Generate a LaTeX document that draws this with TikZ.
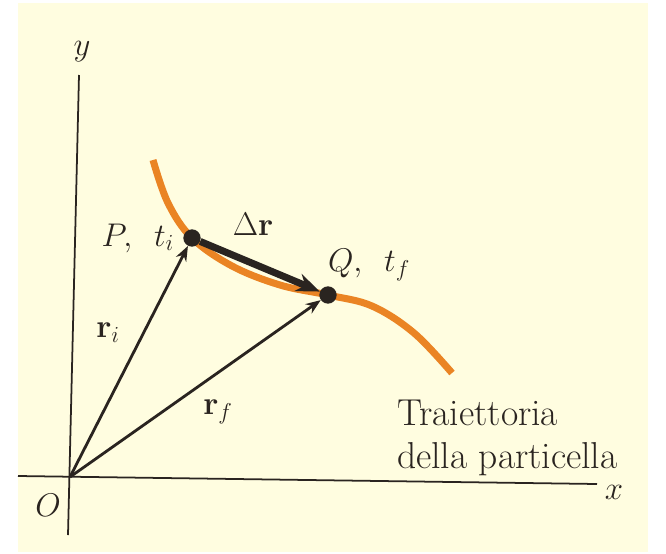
\RequirePackage{fix-cm}
\documentclass[tikz,border=0pt]{standalone}
\usepackage{amsmath, amssymb}
\usepackage{tikz}
\usetikzlibrary{positioning, arrows.meta}
\definecolor{cream}{HTML}{FFFDE0}
\definecolor{traj}{HTML}{EA8424}
\definecolor{ink}{HTML}{2A2420}

\begin{document}
\begin{tikzpicture}[x=0.03cm, y=-0.03cm,
    every node/.style={font=\fontsize{28}{34}\selectfont, text=ink},
    lbl/.style={font=\fontsize{32}{40}\selectfont, anchor=base west, inner sep=0pt},
    axis/.style={draw=ink, line width=1.5pt},
    vec/.style={-{Stealth[length=4.5mm, width=3.4mm]}, draw=ink, line width=2.4pt},
    dvec/.style={-{Stealth[length=7mm, width=5.5mm]}, draw=ink, line width=6pt},
    dot/.style={circle, fill=ink, inner sep=0pt, minimum size=0.52cm}]

  \useasboundingbox (0,0) rectangle (666,553);
  \fill[cream] (18,3) rectangle (648,552);

  % assi
  \coordinate (ytop) at (79,75);
  \coordinate (ybot) at (68,535);
  \coordinate (xleft) at (18,476);
  \coordinate (xright) at (597,484);
  \coordinate (O) at (70,477);
  \draw[axis] (ybot) -- (ytop);
  \draw[axis] (xleft) -- (xright);
  \node (ylab) at (82,52) {$y$};
  \node[inner sep=1pt] (xlab) at (614,492) {$x$};
  \node (Olab) at (48,505) {$O$};

  % traiettoria
  \draw[traj, line width=6pt] plot[smooth, tension=0.6]
    coordinates {(153,160) (168,203) (192,238) (232,266) (280,285)
      (328,295) (372,306) (414,333) (452,373)};

  \node[dot] (P) at (192,238) {};
  \node[dot] (Q) at (328,295) {};

  \draw[vec] (O) -- (P);
  \draw[vec] (O) -- (Q);
  \draw[dvec] (P) -- (Q);

  \node[left=0.15cm of P] (Plab) {$P,\enspace t_i$};
  \node (Qlab) at (369,265) {$Q,\enspace t_f$};
  \node (drlab) at (253,224) {$\Delta\mathbf{r}$};
  \node (rilab) at (108,333) {$\mathbf{r}_i$};
  \node (rflab) at (218,412) {$\mathbf{r}_f$};

  \node[lbl] (tra1) at (397,425) {Traiettoria};
  \node[lbl] (tra2) at (397,468) {della particella};
\end{tikzpicture}
\end{document}
